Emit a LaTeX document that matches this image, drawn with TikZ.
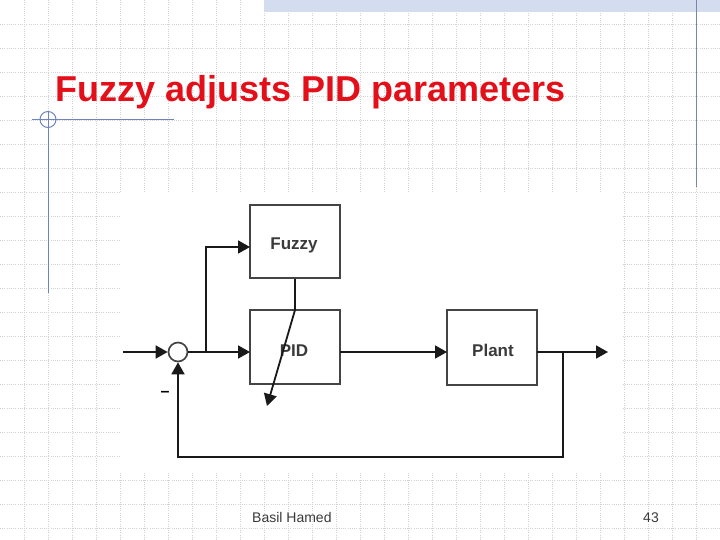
\documentclass[tikz,border=0pt]{standalone}
\usepackage{fontspec}
\setmainfont{Liberation Sans}
\usetikzlibrary{arrows.meta,calc}
\definecolor{titlered}{HTML}{E3101A}
\definecolor{gridgray}{HTML}{D2D2D2}
\definecolor{bandblue}{HTML}{D4DDF0}
\definecolor{decoblue}{HTML}{6F84BC}
\definecolor{rightblue}{HTML}{7A86A8}
\definecolor{boxgray}{HTML}{444444}
\definecolor{textgray}{HTML}{3A3A3A}
\tikzset{
  gridline/.style={gridgray, line width=0.8pt, dash pattern=on 1pt off 1.2pt},
  blockbox/.style={draw=boxgray, line width=1.7pt, minimum width=90pt, minimum height=74pt, inner sep=0pt},
  blocktext/.style={font=\fontsize{17}{17}\selectfont\bfseries, text=textgray, inner sep=0pt},
  sig/.style={line width=1.8pt, draw=black!90},
  sigarrow/.style={sig, -{Triangle[length=12pt,width=13pt]}},
  sumnode/.style={circle, draw=boxgray, line width=1.7pt, minimum size=19pt, inner sep=0pt},
  deco/.style={decoblue, line width=1pt},
}
\begin{document}
\begin{tikzpicture}[x=1pt,y=-1pt]
\useasboundingbox (0,0) rectangle (720,540);
\fill[white] (0,0) rectangle (720,540);
% grid
\foreach \gx in {24,48,...,696} {\draw[gridline] (\gx,0) -- (\gx,540);}
\foreach \gy in {24,48,...,528} {\draw[gridline] (0,\gy) -- (720,\gy);}
% top band
\fill[bandblue] (264,0) rectangle (720,12);
\draw[rightblue, line width=1.3pt] (696.5,0) -- (696.5,187);
% left decoration
\draw[deco] (32,119.5) -- (174,119.5);
\draw[deco] (48,112) -- (48,293);
\draw[deco] (48,119.5) circle[radius=8];
% title
\node[anchor=base west, inner sep=0pt, text=titlered, font=\fontsize{36}{36}\selectfont\bfseries] (title) at (55,102) {Fuzzy adjusts PID parameters};
% picture background
\fill[white] (120,192) rectangle (621,473);
% blocks
\node[blockbox, minimum height=73pt] (fuzzy) at (295,241.5) {};
\node[blocktext] (fuzzytxt) at (294,245) {Fuzzy};
\node[blockbox] (pid) at (295,347) {};
\node[blocktext] (pidtxt) at (294,351) {PID};
\node[blockbox, minimum height=75pt] (plant) at (492,347.5) {};
\node[blocktext] (planttxt) at (493,350.5) {Plant};
\node[sumnode] (sum) at (178,352) {};
\node[font=\fontsize{16}{16}\selectfont\bfseries, inner sep=0pt] (minus) at (165,394) {\textendash};
% coordinates
\coordinate (inp) at (123,352);
\coordinate (br1) at (206,352);
\coordinate (fin) at (250,247);
\coordinate (pidin) at (250,352);
\coordinate (pidout) at (340,352);
\coordinate (plantin) at (447,352);
\coordinate (plantout) at (537,352);
\coordinate (br2) at (563,352);
\coordinate (outp) at (608,352);
\coordinate (fbl) at (563,457);
\coordinate (paramtop) at (295,310);
\coordinate (paramtip) at (267,406);
% connectors
\draw[sigarrow] (inp) -- (sum.west);
\draw[sigarrow] (sum.east) -- (pidin);
\draw[sigarrow] (br1) |- (fin);
\draw[sig] (fuzzy.south) -- (paramtop);
\draw[sigarrow] (paramtop) -- (paramtip);
\draw[sigarrow] (pidout) -- (plantin);
\draw[sigarrow] (plantout) -- (outp);
\draw[sigarrow] (br2) -- (fbl) -| (sum.south);
% footer
\node[anchor=base west, inner sep=0pt, text=textgray, font=\fontsize{14}{14}\selectfont] (author) at (252,522) {Basil Hamed};
\node[anchor=base east, inner sep=0pt, text=textgray, font=\fontsize{14}{14}\selectfont] (pagenum) at (659,522) {43};
\end{tikzpicture}
\end{document}
